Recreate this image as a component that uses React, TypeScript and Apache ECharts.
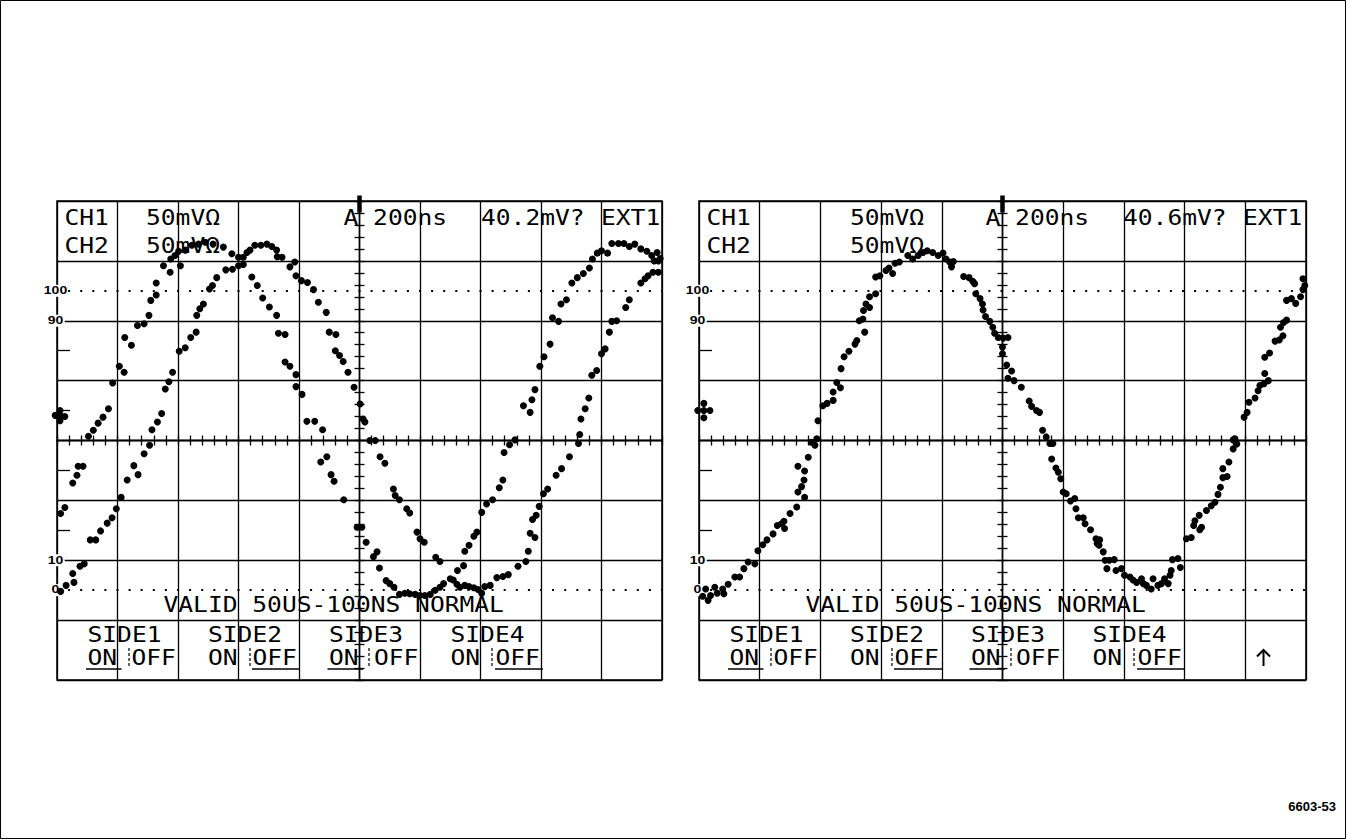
import React, { useEffect, useRef } from "react";
import * as echarts from "echarts";

// ---- Data (screen divisions: x -5..5, y -4..4, centre = 0,0) ----
const leftTraceA: [number, number][] = [
  [-4.94,-1.22],[-4.87,-1.12],[-4.74,-0.71],[-4.67,-0.58],[-4.65,-0.43],[-4.57,-0.43],[-4.48,0.07],[-4.40,0.17],[-4.32,0.29],[-4.24,0.39],[-4.15,0.53],[-4.08,0.96],[-3.97,1.24],[-3.89,1.14],[-3.88,1.72],[-3.77,1.59],[-3.67,1.92],[-3.56,1.95],[-3.48,2.09],[-3.45,2.34],[-3.36,2.43],[-3.36,2.63],[-3.24,2.92],[-3.13,2.81],[-3.12,3.03],[-3.05,3.09],[-2.99,3.16],[-2.96,2.92],[-2.88,3.18],[-2.77,3.26],[-2.66,3.28],[-2.55,3.31],[-2.42,3.28],[-2.25,3.23],[-2.11,3.12],[-2.00,3.06],[-1.92,2.94],[-1.78,2.73],[-1.69,2.59],[-1.60,2.38],[-1.49,2.23],[-1.37,2.09],[-1.34,1.79],[-1.23,1.77],[-1.23,1.31],[-1.15,1.24],[-1.05,1.10],[-1.05,0.90],[-0.95,0.77],[-0.87,0.32],[-0.74,0.32],[-0.61,0.18],[-0.64,-0.36],[-0.54,-0.27],[-0.47,-0.57],[-0.42,-0.68],[-0.26,-0.99],[-0.04,-1.45],[0.04,-1.45],[0.11,-1.70],[0.23,-1.94],[0.29,-1.86],[0.33,-2.13],[0.44,-2.34],[0.50,-2.39],[0.57,-2.45],[0.66,-2.57],[0.75,-2.55],[0.83,-2.56],[0.92,-2.57],[1.00,-2.59],[1.08,-2.59],[1.17,-2.57],[1.25,-2.50],[1.33,-2.45],[1.39,-2.39],[1.50,-2.31],[1.62,-2.17],[1.72,-2.09],[1.74,-1.85],[1.81,-1.75],[1.89,-1.60],[1.94,-1.53],[2.02,-1.20],[2.10,-1.06],[2.20,-0.99],[2.31,-0.79],[2.37,-0.66],[2.39,-0.20],[2.48,-0.07],[2.57,0.01],[2.71,0.58],[2.82,0.47],[2.85,0.68],[2.90,0.85],[2.98,1.24],[3.05,1.40],[3.15,1.61],[3.19,2.05],[3.29,1.99],[3.33,2.28],[3.42,2.35],[3.51,2.63],[3.60,2.72],[3.70,2.79],[3.80,2.88],[3.85,3.03],[3.93,3.13],[4.00,3.17],[4.10,3.13],[4.17,3.29],[4.28,3.29],[4.37,3.29],[4.46,3.24],[4.55,3.28],[4.65,3.20],[4.75,3.16],[4.83,3.09],[4.92,3.14],[4.94,3.00]
];

const leftTraceB: [number, number][] = [
  [-4.94,-2.52],[-4.85,-2.42],[-4.72,-2.37],[-4.74,-2.22],[-4.62,-2.10],[-4.55,-2.06],[-4.45,-1.66],[-4.36,-1.66],[-4.28,-1.51],[-4.17,-1.38],[-4.09,-1.29],[-4.02,-1.14],[-3.94,-0.95],[-3.84,-0.66],[-3.73,-0.42],[-3.66,-0.57],[-3.56,-0.22],[-3.47,-0.08],[-3.43,0.18],[-3.34,0.31],[-3.27,0.45],[-3.21,0.86],[-3.15,0.98],[-3.09,1.14],[-2.98,1.49],[-2.88,1.55],[-2.79,1.72],[-2.70,1.81],[-2.69,2.09],[-2.64,2.20],[-2.58,2.28],[-2.48,2.53],[-2.43,2.59],[-2.36,2.72],[-2.21,2.85],[-2.10,2.86],[-2.00,2.92],[-1.92,3.06],[-1.86,3.14],[-1.81,3.18],[-1.73,3.26],[-1.63,3.26],[-1.53,3.28],[-1.45,3.24],[-1.37,3.18],[-1.36,3.07],[-1.28,3.06],[-1.15,2.90],[-1.07,2.98],[-1.05,2.75],[-0.96,2.67],[-0.86,2.64],[-0.76,2.52],[-0.68,2.31],[-0.55,2.14],[-0.50,1.81],[-0.39,1.77],[-0.40,1.50],[-0.33,1.42],[-0.27,1.32],[-0.19,1.14],[-0.09,0.89],[0.01,0.61],[0.06,0.36],[0.09,0.31],[0.17,0.00],[0.26,0.00],[0.34,-0.27],[0.42,-0.38],[0.56,-0.81],[0.59,-0.92],[0.66,-0.99],[0.78,-1.14],[0.83,-1.21],[0.95,-1.53],[1.00,-1.64],[1.07,-1.70],[1.26,-1.95],[1.33,-2.02],[1.55,-2.33],[1.61,-2.40],[1.66,-2.45],[1.74,-2.42],[1.81,-2.44],[1.89,-2.46],[1.96,-2.49],[2.02,-2.55],[2.07,-2.44],[2.16,-2.42],[2.27,-2.29],[2.37,-2.27],[2.46,-2.24],[2.62,-2.10],[2.75,-2.02],[2.79,-1.85],[2.82,-1.55],[2.90,-1.62],[2.86,-1.32],[2.92,-1.25],[2.97,-1.10],[3.04,-0.89],[3.11,-0.81],[3.25,-0.58],[3.34,-0.47],[3.47,-0.27],[3.62,-0.05],[3.64,0.10],[3.66,0.36],[3.73,0.53],[3.79,0.71],[3.84,1.09],[3.92,1.17],[4.00,1.45],[4.06,1.53],[4.13,1.81],[4.17,1.99],[4.25,2.00],[4.40,2.22],[4.46,2.35],[4.65,2.63],[4.72,2.70],[4.77,2.75],[4.85,2.81],[4.94,2.81],[4.87,3.00],[4.97,3.04]
];

const rightTrace: [number, number][] = [
  [-5.01,-2.64],[-4.94,-2.60],[-4.89,-2.48],[-4.85,-2.67],[-4.81,-2.59],[-4.74,-2.45],[-4.70,-2.55],[-4.61,-2.48],[-4.59,-2.56],[-4.52,-2.40],[-4.41,-2.28],[-4.33,-2.28],[-4.26,-2.14],[-4.19,-2.03],[-4.08,-2.06],[-4.03,-1.84],[-3.95,-1.74],[-3.88,-1.66],[-3.78,-1.56],[-3.71,-1.42],[-3.64,-1.39],[-3.60,-1.35],[-3.59,-1.47],[-3.50,-1.22],[-3.39,-1.11],[-3.37,-0.86],[-3.26,-0.95],[-3.31,-0.77],[-3.27,-0.66],[-3.26,-0.51],[-3.37,-0.43],[-3.20,-0.28],[-3.15,-0.03],[-3.09,-0.08],[-3.06,0.03],[-3.04,0.33],[-2.96,0.58],[-2.89,0.62],[-2.79,0.67],[-2.79,0.81],[-2.73,0.97],[-2.67,0.88],[-2.66,1.20],[-2.61,1.40],[-2.53,1.49],[-2.43,1.61],[-2.40,1.67],[-2.27,1.81],[-2.36,2.00],[-2.30,2.03],[-2.29,2.17],[-2.25,2.28],[-2.19,2.22],[-2.19,2.40],[-2.09,2.45],[-2.09,2.73],[-2.02,2.75],[-1.92,2.84],[-1.87,2.88],[-1.81,2.79],[-1.77,2.96],[-1.70,2.98],[-1.56,3.09],[-1.48,3.03],[-1.39,3.09],[-1.31,3.14],[-1.24,3.17],[-1.15,3.14],[-1.06,3.09],[-0.98,3.13],[-0.93,3.03],[-0.87,2.98],[-0.81,2.99],[-0.84,2.90],[-0.64,2.74],[-0.55,2.72],[-0.49,2.66],[-0.46,2.62],[-0.44,2.45],[-0.37,2.37],[-0.33,2.28],[-0.32,2.18],[-0.28,2.07],[-0.21,1.99],[-0.16,1.89],[-0.13,1.79],[-0.07,1.72],[0.01,1.71],[0.09,1.72],[0.00,1.56],[0.00,1.45],[0.07,1.26],[0.15,1.16],[0.09,1.04],[0.19,1.00],[0.31,0.89],[0.44,0.66],[0.48,0.57],[0.56,0.50],[0.61,0.47],[0.66,0.17],[0.72,0.06],[0.78,-0.05],[0.83,-0.05],[0.81,-0.31],[0.88,-0.46],[0.92,-0.53],[0.96,-0.64],[1.00,-0.86],[1.05,-0.89],[1.12,-1.01],[1.19,-0.97],[1.21,-1.14],[1.25,-1.29],[1.33,-1.29],[1.36,-1.39],[1.45,-1.49],[1.54,-1.64],[1.60,-1.66],[1.56,-1.72],[1.59,-1.75],[1.66,-1.86],[1.69,-2.00],[1.76,-2.00],[1.84,-1.99],[1.72,-2.14],[1.87,-2.17],[1.96,-2.14],[2.01,-2.25],[2.10,-2.28],[2.15,-2.33],[2.21,-2.37],[2.29,-2.31],[2.32,-2.39],[2.37,-2.42],[2.45,-2.48],[2.48,-2.31],[2.56,-2.42],[2.62,-2.39],[2.67,-2.31],[2.73,-2.39],[2.76,-2.25],[2.78,-2.17],[2.80,-1.99],[2.89,-1.97],[2.93,-2.12],[3.03,-1.64],[3.11,-1.62],[3.15,-1.42],[3.17,-1.34],[3.24,-1.25],[3.28,-1.45],[3.25,-1.49],[3.36,-1.17],[3.44,-1.09],[3.50,-1.03],[3.55,-0.90],[3.59,-0.78],[3.63,-0.62],[3.70,-0.60],[3.63,-0.47],[3.73,-0.36],[3.80,-0.14],[3.86,-0.06],[3.83,0.03],[3.80,0.01],[3.98,0.39],[4.03,0.47],[4.06,0.64],[4.16,0.71],[4.21,0.83],[4.24,0.92],[4.31,0.95],[4.38,1.00],[4.32,1.12],[4.32,1.39],[4.40,1.46],[4.49,1.66],[4.56,1.68],[4.62,1.75],[4.58,1.89],[4.63,1.97],[4.68,2.01],[4.68,2.34],[4.76,2.37],[4.83,2.29],[4.91,2.40],[4.95,2.52],[4.98,2.59],[4.95,2.70]
];

const leftGroundMarker: [number, number][] = [[-5.03,0.42],[-4.95,0.50],[-4.95,0.33],[-4.87,0.40],[-4.95,0.42]];
const rightGroundMarker: [number, number][] = [[-5.02,0.50],[-4.92,0.62],[-4.92,0.38],[-4.92,0.50],[-4.82,0.50]];
const triggerMarker: [number, number][] = [[0, 3.95]];

const referenceLevels = [2.5, -2.5]; // dotted 100% / 0% lines
const percentTicks = [
  { label: "100", value: 2.5 },
  { label: "90", value: 2 },
  { label: "10", value: -2 },
  { label: "0", value: -2.5 },
];
const halfDivisionTicks = [1.5, 0.5, -0.5, -1.5];
const channelNames = ["CH1", "CH2"];
const voltsPerDiv = ["50mVΩ", "50mVΩ"];
const timebase = "A 200ns";
const triggerSource = "EXT1";
const statusLine = "VALID 50US-100NS NORMAL";
const sideLabels = ["SIDE1", "SIDE2", "SIDE3", "SIDE4"];
const sideSelected = ["ON", "OFF", "ON", "OFF"];
const panelLevels = ["40.2mV?", "40.6mV?"];
const figureId = "6603-53";

// ---- Layout ----
const GRID_LEFT = [57, 699];
const GRID_WIDTH = [605, 607];
const GRID_TOP = 201;
const GRID_HEIGHT = 479;
const CENTER_Y = GRID_TOP + GRID_HEIGHT / 2;
const DIV_H = GRID_HEIGHT / 8;

const MONO_FONT = '20.5px "DejaVu Sans Mono", monospace';
const MONO_SCALE = 1.2;

function mono(text: string, x: number, y: number, align: string = "left") {
  return {
    type: "text",
    x,
    y,
    scaleX: MONO_SCALE,
    z: 1,
    silent: true,
    style: { text, font: MONO_FONT, fill: "#000", textAlign: align, textVerticalAlign: "middle" },
  };
}
function seg(x1: number, y1: number, x2: number, y2: number, w = 1.5, dash?: number[]) {
  return {
    type: "line",
    z: 1,
    silent: true,
    shape: { x1, y1, x2, y2 },
    style: { stroke: "#000", lineWidth: w, lineDash: dash },
  };
}

const LINE = { color: "#000", width: 1.3 };
const DOT = { color: "#000", opacity: 1 };

function buildOption() {
  const xAxis: any[] = [];
  const yAxis: any[] = [];
  const grid: any[] = [];
  const series: any[] = [];
  const graphic: any[] = [];

  graphic.push({
    type: "rect",
    z: 0,
    silent: true,
    shape: { x: 0.5, y: 0.5, width: 1345, height: 838 },
    style: { fill: "none", stroke: "#000", lineWidth: 1 },
  });

  const traces = [[leftTraceA, leftTraceB], [rightTrace]];
  const grounds = [leftGroundMarker, rightGroundMarker];

  for (let i = 0; i < 2; i++) {
    grid.push({
      left: GRID_LEFT[i],
      top: GRID_TOP,
      width: GRID_WIDTH[i],
      height: GRID_HEIGHT,
      show: true,
      borderColor: "#000",
      borderWidth: 1.5,
      backgroundColor: "transparent",
    });
    const xMain = i * 3;
    const yMain = i * 4;
    xAxis.push({
      type: "value", gridIndex: i, min: -5, max: 5, interval: 1, position: "bottom",
      axisLine: { show: false, onZero: false }, axisTick: { show: false }, axisLabel: { show: false },
      splitLine: { show: true, lineStyle: LINE },
    });
    [false, true].forEach((inside) => {
      xAxis.push({
        type: "value", gridIndex: i, min: -5, max: 5, interval: 1, position: "bottom",
        axisLine: { show: true, onZero: true, onZeroAxisIndex: yMain, lineStyle: LINE },
        axisTick: { show: true, inside, length: 5, lineStyle: LINE },
        minorTick: { show: true, splitNumber: 5, length: 5, lineStyle: LINE },
        axisLabel: { show: false }, splitLine: { show: false },
      });
    });
    yAxis.push({
      type: "value", gridIndex: i, min: -4, max: 4, interval: 1, position: "left",
      axisLine: { show: false, onZero: false }, axisTick: { show: false }, axisLabel: { show: false },
      splitLine: { show: true, lineStyle: LINE },
    });
    [false, true].forEach((inside) => {
      yAxis.push({
        type: "value", gridIndex: i, min: -4, max: 4, interval: 1, position: "left",
        axisLine: { show: true, onZero: true, onZeroAxisIndex: xMain, lineStyle: LINE },
        axisTick: { show: true, inside, length: 5, lineStyle: LINE },
        minorTick: { show: true, splitNumber: 5, length: 5, lineStyle: LINE },
        axisLabel: { show: false }, splitLine: { show: false },
      });
    });
    yAxis.push({
      type: "value", gridIndex: i, min: -4, max: 4, interval: 1, position: "left",
      axisLine: { show: false, onZero: false },
      axisTick: { show: true, inside: true, length: 13, customValues: halfDivisionTicks, lineStyle: LINE },
      axisLabel: { show: false }, splitLine: { show: false },
    });

    traces[i].forEach((t, j) => {
      series.push({
        type: "scatter", xAxisIndex: xMain, yAxisIndex: yMain, data: t,
        symbol: "circle", symbolSize: 7, itemStyle: DOT, silent: true, z: 3,
        markLine: j === 0 ? {
          silent: true, symbol: ["none", "none"], label: { show: false },
          lineStyle: { color: "#000", width: 2, type: [2, 10.1], dashOffset: 1, opacity: 1 },
          emphasis: { disabled: true },
          data: referenceLevels.map((v) => ({ yAxis: v })),
        } : undefined,
      });
    });
    series.push({
      type: "scatter", xAxisIndex: xMain, yAxisIndex: yMain, data: grounds[i],
      symbol: "circle", symbolSize: 7, itemStyle: DOT, silent: true, z: 3, clip: false,
    });
    series.push({
      type: "scatter", xAxisIndex: xMain, yAxisIndex: yMain, data: triggerMarker,
      symbol: "rect", symbolSize: [4.5, 17], itemStyle: DOT, silent: true, z: 3, clip: false,
    });

    // ---- texts ----
    const ox = GRID_LEFT[i] - GRID_LEFT[0];
    const scaleX = i === 0 ? 146 : 850;
    graphic.push(mono(channelNames[0], 64.5 + ox, 217.5));
    graphic.push(mono(channelNames[1], 64.5 + ox, 245.5));
    graphic.push(mono(voltsPerDiv[0], scaleX, 217.5));
    graphic.push(mono(voltsPerDiv[1], scaleX, 245.5));
    graphic.push(mono(timebase, 343.5 + ox, 217.5));
    graphic.push(mono(panelLevels[i], 481 + ox, 217.5));
    graphic.push(mono(triggerSource, 601 + ox, 217.5));
    graphic.push(mono(statusLine, 163.5 + ox, 605));

    const sideXs = [87.5, 208, 329, 450.5];
    const offXs = [131.5, 252.5, 374, 495.5];
    const sepXs = [129, 250, 369, 492];
    sideLabels.forEach((lab, k) => {
      graphic.push(mono(lab, sideXs[k] + ox, 635));
      graphic.push(mono("ON", sideXs[k] + ox, 657.5));
      graphic.push(mono("OFF", offXs[k] + ox, 657.5));
      graphic.push(seg(sepXs[k] + ox, 648, sepXs[k] + ox, 668, 1.2, [3, 2]));
      if (sideSelected[k] === "ON") {
        graphic.push(seg(sideXs[k] - 1.5 + ox, 669, sideXs[k] + 34 + ox, 669));
      } else {
        graphic.push(seg(offXs[k] - 0.5 + ox, 669, offXs[k] + 47.5 + ox, 669));
      }
    });
    if (i === 1) {
      // up-arrow soft key
      graphic.push(seg(1263.5, 650, 1263.5, 666, 2));
      graphic.push({
        type: "polyline", z: 1, silent: true,
        shape: { points: [[1257, 656.5], [1263.5, 650], [1270, 656.5]] },
        style: { stroke: "#000", lineWidth: 2, fill: "none" },
      });
    }

    percentTicks.forEach((p) => {
      graphic.push({
        type: "text",
        x: GRID_LEFT[i] - 1.5,
        y: CENTER_Y - p.value * DIV_H,
        scaleX: 1.4,
        z: 1,
        silent: true,
        style: {
          text: p.label, font: 'bold 10px "Liberation Sans", Arial, sans-serif', fill: "#000",
          textAlign: "center", textVerticalAlign: "middle", backgroundColor: "#fff", padding: [1, 1],
        },
      });
    });
  }

  graphic.push({
    type: "text", x: 1336, y: 806, z: 1, silent: true,
    style: { text: figureId, font: 'bold 13px "Liberation Sans", Arial, sans-serif', fill: "#000", textAlign: "right", textVerticalAlign: "middle" },
  });

  return {
    animation: false,
    backgroundColor: "#fff",
    grid, xAxis, yAxis, series, graphic,
  };
}

export default function App() {
  const ref = useRef<HTMLDivElement>(null);
  useEffect(() => {
    if (!ref.current) return;
    const chart = echarts.init(ref.current, undefined, { renderer: "svg" });
    chart.setOption(buildOption() as any);
    return () => chart.dispose();
  }, []);
  return (
    <div
      ref={ref}
      style={{ position: "absolute", left: 0, top: 0, width: 1347, height: 840, background: "#fff" }}
    />
  );
}
